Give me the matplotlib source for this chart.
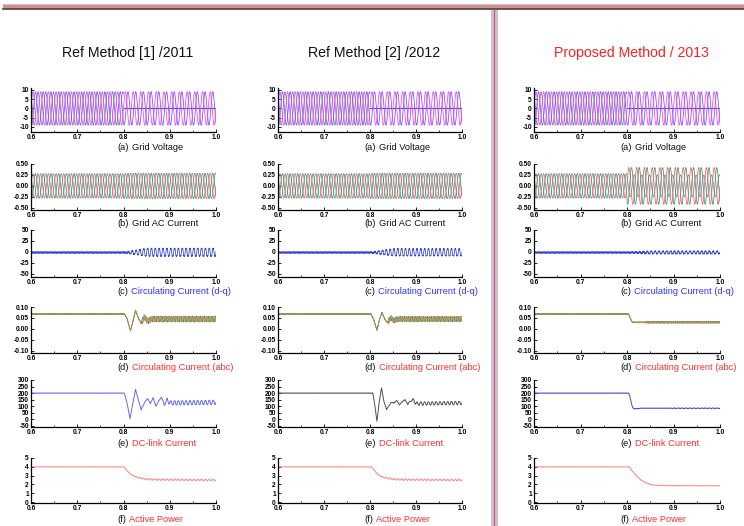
import numpy as np
import matplotlib
matplotlib.use("Agg")
import matplotlib.pyplot as plt
from matplotlib.ticker import MultipleLocator
from matplotlib.patches import Rectangle
from matplotlib.lines import Line2D

W, H = 744, 526

# ---------------- data ----------------
titles = ["Ref Method [1] /2011", "Ref Method [2] /2012", "Proposed Method / 2013"]
title_colors = ["#111111", "#111111", "#ff2020"]
panel_letters = ["(a)", "(b)", "(c)", "(d)", "(e)", "(f)"]
panel_names = ["Grid Voltage", "Grid AC Current", "Circulating Current (d-q)",
               "Circulating Current (abc)", "DC-link Current", "Active Power"]
panel_name_colors = ["#111111", "#111111", "#3030ff", "#ff3030", "#ff3030", "#ff3030"]

x_ticks = [0.6, 0.7, 0.8, 0.9, 1.0]
y_ticks = [[-10, -5, 0, 5, 10],
           [-0.50, -0.25, 0.00, 0.25, 0.50],
           [-50, -25, 0, 25, 50],
           [-0.10, -0.05, 0.00, 0.05, 0.10],
           [-50, 0, 50, 100, 150, 200, 250, 300],
           [0, 1, 2, 3, 4, 5]]
y_fmt = ["{:.0f}", "{:.2f}", "{:.0f}", "{:.2f}", "{:.0f}", "{:.0f}"]
y_lims = [(-12.7, 11.0), (-0.55, 0.50), (-57, 50), (-0.11, 0.10), (-58, 300), (-0.1, 5.0)]

T_FAULT = 0.8
F_GRID = 60.0
F_RIPPLE = 120.0

# grid voltage amplitude (all columns)
v_amp = 9.0
# grid current amplitude before / after the fault, per column
i_amp_pre = [0.28, 0.28, 0.28]
i_amp_post = [0.29, 0.29, 0.42]
# circulating current d-q: noise before, 2nd-harmonic amplitude after
dq_noise = [2.5, 2.5, 2.5]
dq_post = [10.0, 9.0, 3.0]

# circulating current abc: key points (time, value), ripple after the fault
abc_t = [[0.6, 0.802, 0.808, 0.815, 0.821, 0.826, 0.832, 0.838, 0.845, 0.852, 0.86, 1.0],
         [0.6, 0.802, 0.808, 0.815, 0.821, 0.826, 0.832, 0.838, 0.845, 0.852, 0.86, 1.0],
         [0.6, 0.803, 0.806, 0.809, 0.812, 1.0]]
abc_v = [[0.068, 0.068, 0.045, -0.008, 0.04, 0.085, 0.05, 0.025, 0.055, 0.035, 0.045, 0.045],
         [0.068, 0.068, 0.042, -0.005, 0.045, 0.075, 0.045, 0.028, 0.05, 0.038, 0.045, 0.045],
         [0.068, 0.068, 0.055, 0.038, 0.030, 0.030]]
abc_ripple = [0.012, 0.011, 0.003]

# DC-link current key points
dc_t = [[0.6, 0.802, 0.808, 0.814, 0.820, 0.826, 0.832, 0.838, 0.846, 0.852, 0.858, 0.864,
         0.870, 0.876, 0.882, 0.888, 0.894, 0.900, 1.0],
        [0.6, 0.806, 0.810, 0.815, 0.820, 0.825, 0.830, 0.836, 0.846, 0.852, 0.858, 0.864,
         0.870, 0.876, 0.882, 0.888, 0.894, 0.900, 1.0],
        [0.6, 0.803, 0.806, 0.809, 0.812, 0.816, 0.822, 0.830, 1.0]]
dc_v = [[200, 200, 120, 5, 120, 228, 150, 75, 130, 160, 120, 165, 100, 140, 170, 110, 150, 125, 130],
        [200, 200, 120, -15, 130, 240, 140, 75, 130, 125, 145, 110, 135, 150, 115, 140, 150, 120, 125],
        [200, 200, 180, 130, 90, 80, 82, 85, 85]]
dc_ripple = [18.0, 14.0, 2.0]
dc_colors = ["#6868f0", "#505050", "#4848c8"]

# active power key points
p_t = [[0.6, 0.801, 0.806, 0.812, 0.82, 0.83, 0.84, 0.85, 0.87, 1.0],
       [0.6, 0.803, 0.808, 0.814, 0.82, 0.83, 0.84, 0.85, 0.87, 1.0],
       [0.6, 0.805, 0.81, 0.82, 0.83, 0.84, 0.85, 0.86, 0.88, 1.0]]
p_v = [[4, 4, 3.7, 3.3, 3.0, 2.8, 2.7, 2.6, 2.55, 2.5],
       [4, 4, 3.7, 3.3, 3.0, 2.8, 2.7, 2.6, 2.55, 2.5],
       [4, 4, 3.6, 3.0, 2.5, 2.2, 2.0, 1.92, 1.87, 1.85]]
p_ripple = [0.08, 0.08, 0.0]

# ---------------- layout (pixels) ----------------
col_left = [31, 278, 534]
col_right = [216, 462, 720]
row_top = [88, 164, 230, 307, 380, 458]
row_bot = [132, 210, 277, 353, 427, 503]
label_dy = [15, 13, 14, 15, 16, 16]

t = np.linspace(0.6, 1.0, 6001)
post = t >= T_FAULT
w = 2 * np.pi * F_GRID
wr = 2 * np.pi * F_RIPPLE

fig = plt.figure(figsize=(W / 100, H / 100), dpi=100)
fig.patch.set_facecolor("white")

# decorations: top band and vertical divider
fig.add_artist(Rectangle((3 / W, 1 - 9.2 / H), 1, 4.6 / H, transform=fig.transFigure,
                         facecolor="#d58c8c", edgecolor="none"))
fig.add_artist(Line2D([3 / W, 1], [1 - 4.3 / H, 1 - 4.3 / H], transform=fig.transFigure,
                      color="#c8c8c8", lw=0.8))
fig.add_artist(Line2D([3 / W, 1], [1 - 9.4 / H, 1 - 9.4 / H], transform=fig.transFigure,
                      color="#4a4040", lw=1.2))
fig.add_artist(Rectangle((490.5 / W, 0), 7 / W, 1 - 10 / H, transform=fig.transFigure,
                         facecolor="#c9c0dc", edgecolor="none"))
fig.add_artist(Line2D([494.2 / W, 494.2 / W], [0, 1 - 10 / H], transform=fig.transFigure,
                      color="#d85858", lw=0.9))

tick_font = dict(family="Liberation Sans", weight="bold", size=4.8)
LABEL_FS = 6.7

for c in range(3):
    cx = (col_left[c] + col_right[c]) / 2 + 4
    fig.text(cx / W, 1 - 53 / H, titles[c], ha="center", va="center",
             fontsize=10.2, color=title_colors[c], family="Liberation Sans",
             path_effects=None)
    for r in range(6):
        rect = [col_left[c] / W, 1 - row_bot[r] / H,
                (col_right[c] - col_left[c]) / W, (row_bot[r] - row_top[r]) / H]
        ax = fig.add_axes(rect)
        lw = 0.55
        if r == 0:
            ph = [0, -2 * np.pi / 3, 2 * np.pi / 3]
            cols = ["#ff38ff", "#5a5aff", "#7a7a7a"]
            for k in (2, 1, 0):
                y = v_amp * np.sin(w * t + ph[k])
                if k == 2:
                    ax.plot(t[~post], y[~post], color=cols[k], lw=lw)
                    ax.plot([T_FAULT, 1.0], [0, 0], color="#6b4a9b", lw=0.8)
                else:
                    ax.plot(t, y, color=cols[k], lw=lw)
        elif r == 1:
            ph = [0, -2 * np.pi / 3, 2 * np.pi / 3]
            cols = ["#ff5a5a", "#2f9a78", "#5a9aa0"]
            amp = np.where(post, i_amp_post[c], i_amp_pre[c])
            for k in (2, 1, 0):
                y = amp * np.sin(w * t + ph[k])
                if c == 2 and k == 2:
                    y = np.where(post, 0.6 * y, y)
                ax.plot(t, y, color=cols[k], lw=lw)
        elif r == 2:
            env = np.where(post, np.clip((t - T_FAULT) / 0.05, 0, 1), 0)
            y = dq_noise[c] * (0.6 * np.sin(2 * np.pi * 360 * t) + 0.4 * np.sin(2 * np.pi * 720 * t + 1))
            y = y - 1.0 + env * dq_post[c] * np.sin(wr * t)
            ax.plot(t, y, color="#3344cc", lw=lw)
        elif r == 3:
            base = np.interp(t, abc_t[c], abc_v[c])
            env = np.where(t > 0.84, 1.0, 0.0)
            cols = ["#ff5050", "#3c9c3c", "#a89060"]
            for k in range(3):
                y = base + 0.002 * np.sin(2 * np.pi * 360 * t + k * 2.1) \
                    + env * abc_ripple[c] * np.sin(wr * t + k * 2.1)
                ax.plot(t, y, color=cols[k], lw=lw)
        elif r == 4:
            base = np.interp(t, dc_t[c], dc_v[c])
            env = np.clip((t - 0.88) / 0.02, 0, 1)
            y = base + env * dc_ripple[c] * np.sin(wr * t) + 1.5 * np.sin(2 * np.pi * 360 * t)
            ax.plot(t, y, color=dc_colors[c], lw=0.7)
        else:
            base = np.interp(t, p_t[c], p_v[c])
            env = np.clip((t - 0.815) / 0.02, 0, 1)
            y = base + env * p_ripple[c] * np.sin(wr * t)
            ax.plot(t, y, color="#ff8a8a", lw=0.8)

        ax.set_xlim(0.6, 1.0)
        ax.set_ylim(*y_lims[r])
        for s in ("top", "right"):
            ax.spines[s].set_visible(False)
        for s in ("left", "bottom"):
            ax.spines[s].set_linewidth(0.9)
        ax.set_xticks(x_ticks)
        ax.set_xticklabels(["{:.1f}".format(v) for v in x_ticks], fontdict=tick_font)
        ax.xaxis.set_minor_locator(MultipleLocator(0.05))
        ax.set_yticks(y_ticks[r])
        ax.set_yticklabels([y_fmt[r].format(v) for v in y_ticks[r]], fontdict=tick_font)
        ax.tick_params(direction="in", length=2, width=0.6, pad=1.5)
        ax.tick_params(which="minor", direction="in", length=1.5, width=0.5)
        ax.patch.set_alpha(0)

        lx = (col_left[c] + 86) / W
        ly = 1 - (row_bot[r] + label_dy[r]) / H
        t1 = fig.text(lx, ly, panel_letters[r], ha="left", va="center", fontsize=LABEL_FS,
                      color="#111111", family="Liberation Sans")
        ax.annotate(panel_names[r], xy=(1, 0.5), xycoords=t1, xytext=(2.5, 0),
                    textcoords="offset points", ha="left", va="center", fontsize=LABEL_FS,
                    color=panel_name_colors[r], family="Liberation Sans",
                    annotation_clip=False)

fig.savefig("out.png", dpi=100, facecolor="white")
